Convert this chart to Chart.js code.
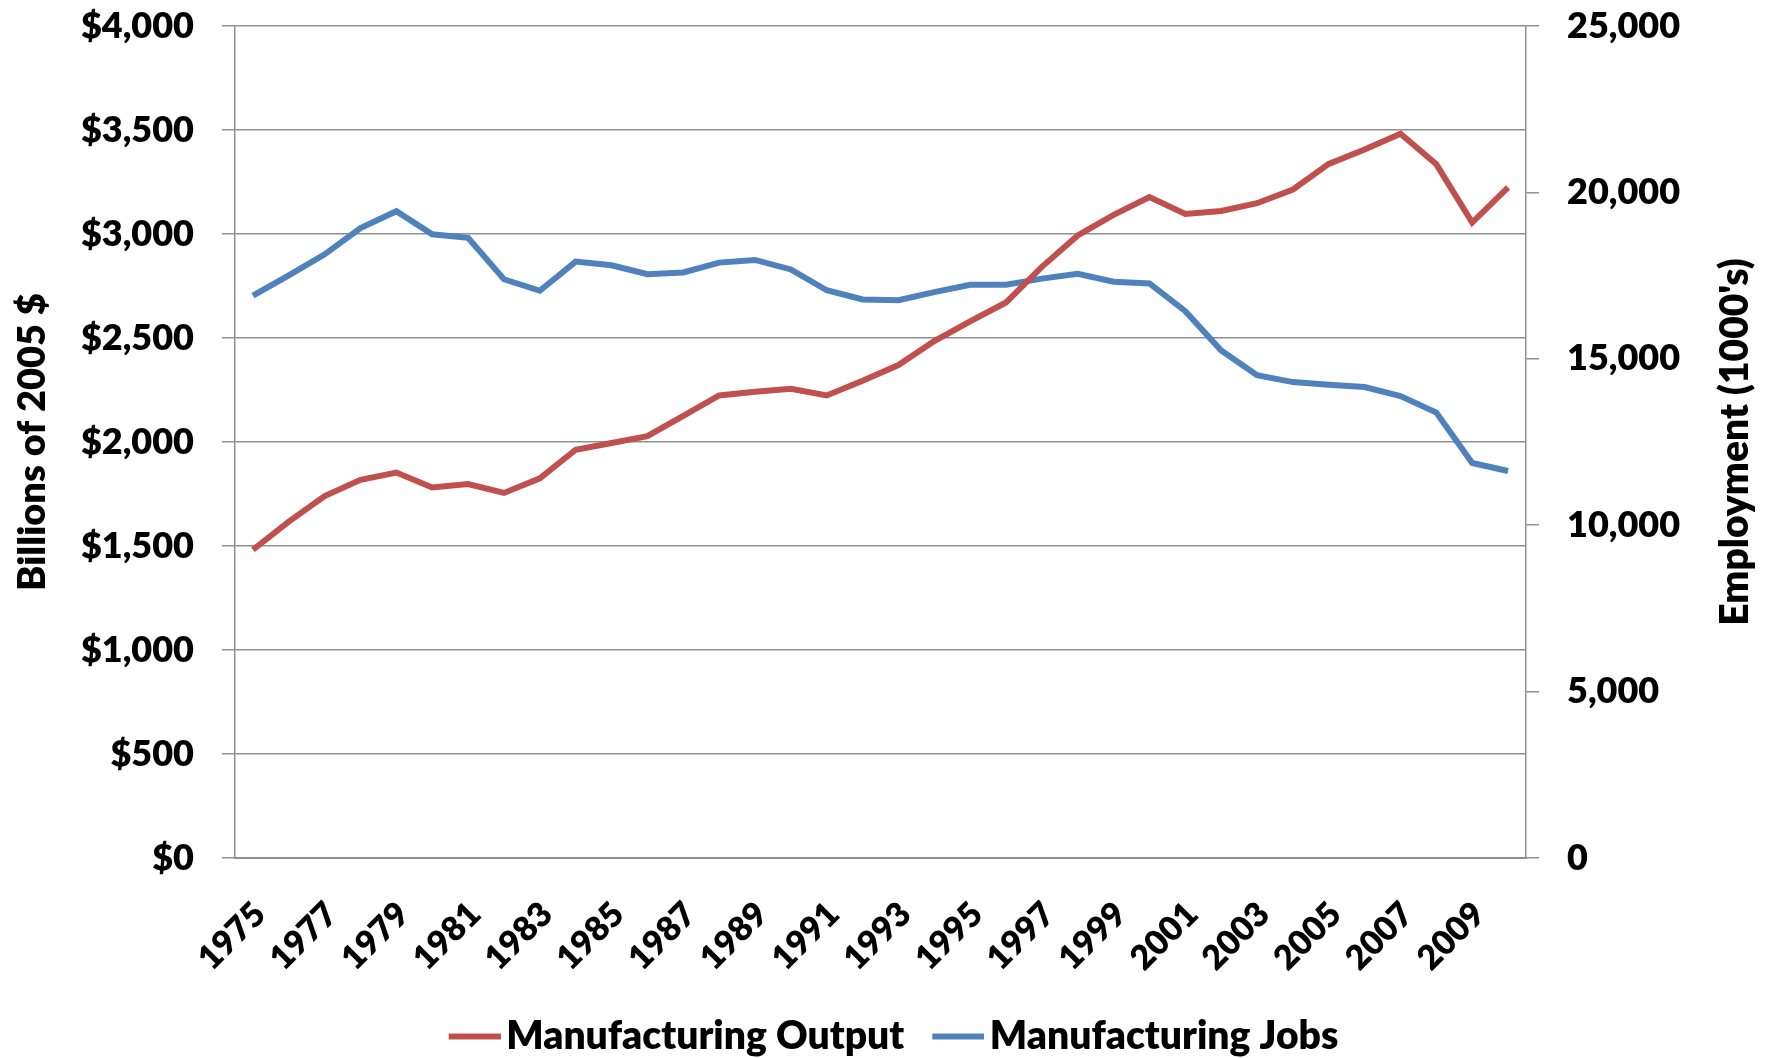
<!DOCTYPE html>
<html>
<head>
<meta charset="utf-8">
<script src="https://cdn.jsdelivr.net/npm/chart.js@4/dist/chart.umd.min.js"></script>
<style>
  body { margin: 0; background: #fff; }
  canvas { display: block; }
</style>
</head>
<body>
<canvas id="chart" width="1769" height="1058"></canvas>
<script>
// DATA
const years = ['1975','1976','1977','1978','1979','1980','1981','1982','1983','1984',
  '1985','1986','1987','1988','1989','1990','1991','1992','1993','1994',
  '1995','1996','1997','1998','1999','2000','2001','2002','2003','2004',
  '2005','2006','2007','2008','2009','2010'];

// billions of 2005 $
const outputValues = [1482, 1617, 1740, 1818, 1853, 1781, 1798, 1755, 1825, 1963,
  1995, 2028, 2126, 2224, 2242, 2256, 2224, 2294, 2370, 2485,
  2580, 2671, 2842, 2993, 3092, 3178, 3096, 3111, 3148, 3214,
  3337, 3406, 3482, 3335, 3055, 3224];

// employment, 1000's
const jobsValues = [16900, 17510, 18140, 18930, 19436, 18740, 18635, 17390, 17045, 17920,
  17810, 17540, 17595, 17890, 17970, 17685, 17060, 16785, 16760, 17005,
  17225, 17225, 17410, 17555, 17315, 17263, 16430, 15250, 14505, 14300,
  14220, 14150, 13880, 13385, 11870, 11630];

const FONT = 'Lato';
const WEIGHT = '800';
const gridGray = '#8f8f8f';
const redLine = '#C0504D';
const blueLine = '#4F81BD';

// legend swatch: short thick line sitting right next to the label text
// (legend centres the image on the 56px box, text starts ~20px after the box)
const makeSwatch = (color) => {
  const c = document.createElement('canvas');
  c.width = 84;
  c.height = 8;
  const g = c.getContext('2d');
  g.strokeStyle = color;
  g.lineWidth = 6;
  g.beginPath();
  g.moveTo(32, 4);
  g.lineTo(84, 4);
  g.stroke();
  return c;
};

// right axis title reads bottom-to-top like the left one
const rightTitle = {
  id: 'rightTitle',
  afterDraw(chart) {
    const c = chart.ctx;
    const area = chart.chartArea;
    c.save();
    c.translate(1735, (area.top + area.bottom) / 2);
    c.rotate(-Math.PI / 2);
    c.font = WEIGHT + ' 39px ' + FONT;
    c.fillStyle = '#000';
    c.textAlign = 'center';
    c.textBaseline = 'middle';
    c.fillText("Employment (1000's)", 0, 0);
    c.restore();
  }
};

// keep the plot top at the $4,000 line, not pushed down by tick padding
const fixTop = (scale) => { scale.paddingTop = 26; scale.paddingBottom = 22; };

// CHART
const ctx = document.getElementById('chart').getContext('2d');
new Chart(ctx, {
  type: 'line',
  data: {
    labels: years,
    datasets: [{
      label: 'Manufacturing Output',
      data: outputValues,
      yAxisID: 'y',
      borderColor: redLine,
      backgroundColor: redLine,
      borderWidth: 6,
      pointRadius: 0,
      pointStyle: makeSwatch(redLine),
      tension: 0
    }, {
      label: 'Manufacturing Jobs',
      data: jobsValues,
      yAxisID: 'y1',
      borderColor: blueLine,
      backgroundColor: blueLine,
      borderWidth: 6,
      pointRadius: 0,
      pointStyle: makeSwatch(blueLine),
      tension: 0
    }]
  },
  options: {
    responsive: false,
    animation: false,
    layout: { padding: { top: 0, bottom: -8, left: 0, right: 0 } },
    plugins: {
      legend: {
        position: 'bottom',
        labels: {
          color: '#000',
          font: { family: FONT, size: 39, weight: WEIGHT },
          usePointStyle: true,
          pointStyleWidth: 56,
          padding: 10
        }
      },
      tooltip: { enabled: false }
    },
    scales: {
      x: {
        type: 'category',
        offset: true,
        grid: { display: false },
        border: { display: true, color: gridGray, width: 2 },
        ticks: {
          color: '#000',
          font: { family: FONT, size: 34, weight: WEIGHT },
          autoSkip: false,
          minRotation: 45,
          maxRotation: 45,
          padding: 28,
          labelOffset: 7,
          callback: function (val, i) { return i % 2 === 0 ? this.getLabelForValue(val) : ''; }
        },
        afterFit: (scale) => { scale.height = 149; }
      },
      y: {
        position: 'left',
        min: 0,
        max: 4000,
        ticks: {
          stepSize: 500,
          color: '#000',
          padding: 28,
          font: { family: FONT, size: 36, weight: WEIGHT },
          callback: (v) => '$' + v.toLocaleString('en-US')
        },
        grid: { color: gridGray, lineWidth: 1.5, tickLength: 13 },
        border: { display: true, color: gridGray, width: 1.5 },
        title: {
          display: true,
          text: 'Billions of 2005 $',
          color: '#000',
          font: { family: FONT, size: 38, weight: WEIGHT },
          padding: { top: 10, bottom: 0 }
        },
        afterFit: (scale) => { scale.width = 235; fixTop(scale); }
      },
      y1: {
        position: 'right',
        min: 0,
        max: 25000,
        ticks: {
          stepSize: 5000,
          color: '#000',
          padding: 28,
          font: { family: FONT, size: 36, weight: WEIGHT },
          callback: (v) => v.toLocaleString('en-US')
        },
        grid: { drawOnChartArea: false, color: gridGray, lineWidth: 1.5, tickLength: 13 },
        border: { display: true, color: gridGray, width: 1.5 },
        afterFit: (scale) => { scale.width = 243; fixTop(scale); }
      }
    }
  },
  plugins: [rightTitle]
});
</script>
</body>
</html>
